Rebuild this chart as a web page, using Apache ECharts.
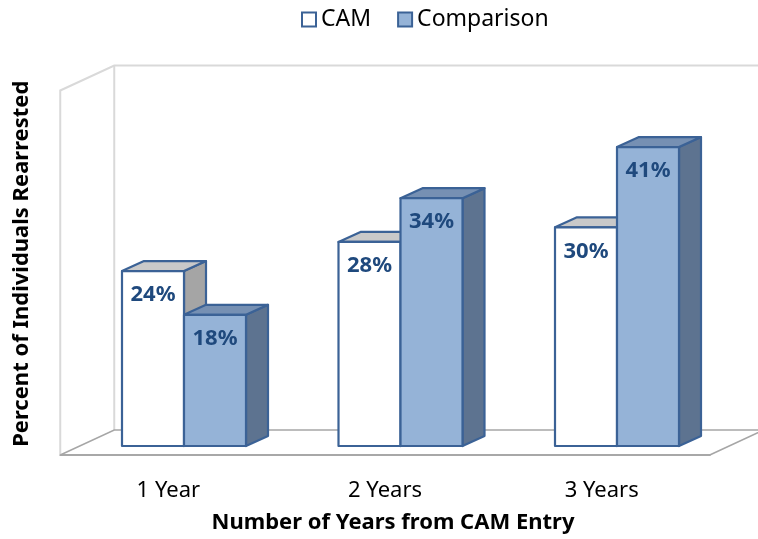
<!DOCTYPE html>
<html><head><meta charset="utf-8">
<script src="https://cdn.jsdelivr.net/npm/echarts@6/dist/echarts.min.js"></script>
<style>html,body{margin:0;padding:0;background:#fff}#c{width:758px;height:539px}</style>
</head><body><div id="c"></div>
<script>
const categories = ['1 Year', '2 Years', '3 Years'];
const camValues = [24, 28, 30];
const comparisonValues = [18, 34, 41];
const seriesNames = ['CAM', 'Comparison'];
const yMax = 50;

const FONT = 'Noto Sans';
const BAR_FRAC = 62 / 216.5;
const BAR_DEPTH = [22, -10];
const FRONT_OFF = [-15.5, 9];
const BACK_OFF = [38.5, -16];
const styles = [
  {front: '#ffffff', top: '#c9c9c9', side: '#a5a5a5', stroke: '#3b6296'},
  {front: '#95b3d7', top: '#7690b3', side: '#5d7390', stroke: '#3b6296'}
];

function barRenderer(idx) {
  return function (params, api) {
    const cat = api.value(0), v = api.value(1);
    const base = api.coord([cat, 0]);
    const top = api.coord([cat, v]);
    const bw = api.size([1, 0])[0] * BAR_FRAC;
    const x0 = base[0] + (idx === 0 ? -bw : 0);
    const x1 = x0 + bw;
    const yb = base[1], yt = top[1];
    const dx = BAR_DEPTH[0], dy = BAR_DEPTH[1];
    const s = styles[idx];
    const ls = {stroke: s.stroke, lineWidth: 2.2, lineJoin: 'round'};
    return {
      type: 'group',
      children: [
        {type: 'polygon', shape: {points: [[x1, yt], [x1 + dx, yt + dy], [x1 + dx, yb + dy], [x1, yb]]},
          style: Object.assign({fill: s.side}, ls)},
        {type: 'polygon', shape: {points: [[x0, yt], [x0 + dx, yt + dy], [x1 + dx, yt + dy], [x1, yt]]},
          style: Object.assign({fill: s.top}, ls)},
        {type: 'rect', shape: {x: x0, y: yt, width: bw, height: yb - yt},
          style: Object.assign({fill: s.front}, ls)},
        {type: 'text', x: (x0 + x1) / 2, y: yt + 24,
          style: {text: v + '%', fill: '#1f497d', font: 'bold 22px "' + FONT + '"', align: 'center', verticalAlign: 'middle'}}
      ]
    };
  };
}

function wallRenderer(params, api) {
  const cs = params.coordSys;
  const L = cs.x, R = cs.x + cs.width, T = cs.y, B = cs.y + cs.height;
  const f = FRONT_OFF, b = BACK_OFF;
  const wall = {stroke: '#d9d9d9', lineWidth: 2, fill: 'none'};
  const floor = {stroke: '#a6a6a6', lineWidth: 1.5, fill: 'none'};
  return {
    type: 'group',
    children: [
      {type: 'polyline', shape: {points: [[L + f[0], B + f[1]], [L + f[0], T + f[1]], [L + b[0], T + b[1]], [R + b[0], T + b[1]]]}, style: wall},
      {type: 'line', shape: {x1: L + b[0], y1: T + b[1], x2: L + b[0], y2: B + b[1]}, style: wall},
      {type: 'polyline', shape: {points: [[L + f[0], B + f[1]], [L + b[0], B + b[1]], [R + b[0], B + b[1]], [R + f[0], B + f[1]]]}, style: floor}
    ]
  };
}

const chart = echarts.init(document.getElementById('c'));
chart.setOption({
  animation: false,
  backgroundColor: '#ffffff',
  legend: {
    top: 3, left: 296, itemGap: 26, itemWidth: 14, itemHeight: 14, icon: 'rect',
    textStyle: {fontFamily: FONT, fontSize: 23, color: '#000'},
    data: [
      {name: 'CAM', itemStyle: {color: '#ffffff', borderColor: '#3b6296', borderWidth: 2}},
      {name: 'Comparison', itemStyle: {color: '#95b3d7', borderColor: '#3b6296', borderWidth: 2}}
    ]
  },
  grid: [
    {left: 75.75, right: 32.75, top: 81.5, bottom: 93, containLabel: false, outerBoundsMode: 'none'},
    {left: 60, right: 48, top: 81.5, bottom: 84, containLabel: false, outerBoundsMode: 'none'}
  ],
  xAxis: [
    {type: 'category', gridIndex: 0, data: categories, show: false},
    {type: 'category', gridIndex: 1, data: categories,
      axisLine: {lineStyle: {color: '#8c8c8c', width: 1.5}},
      axisTick: {length: 7, lineStyle: {color: '#8c8c8c', width: 1.5}},
      axisLabel: {fontFamily: FONT, fontSize: 22, color: '#000', margin: 25},
      name: 'Number of Years from CAM Entry', nameLocation: 'middle', nameGap: 57,
      nameTextStyle: {fontFamily: FONT, fontSize: 22, fontWeight: 'bold', color: '#000', padding: [0, 0, 0, 16]}}
  ],
  yAxis: [
    {type: 'value', gridIndex: 0, min: 0, max: yMax, interval: 10,
      axisLine: {show: false}, axisTick: {show: false}, axisLabel: {show: false}, splitLine: {show: false},
      name: 'Percent of Individuals Rearrested', nameLocation: 'middle', nameGap: 43, nameRotate: 90,
      nameTextStyle: {fontFamily: FONT, fontSize: 22, fontWeight: 'bold', color: '#000'}},
    {type: 'value', gridIndex: 1, min: 0, max: yMax, show: false}
  ],
  series: [
    {type: 'custom', name: 'walls', xAxisIndex: 0, yAxisIndex: 0, data: [[0, 0]], renderItem: wallRenderer, silent: true, z: 1},
    {type: 'custom', name: seriesNames[0], xAxisIndex: 0, yAxisIndex: 0, z: 3,
      itemStyle: {color: '#ffffff', borderColor: '#3b6296'},
      data: camValues.map((v, i) => [i, v]), renderItem: barRenderer(0)},
    {type: 'custom', name: seriesNames[1], xAxisIndex: 0, yAxisIndex: 0, z: 4,
      itemStyle: {color: '#95b3d7', borderColor: '#3b6296'},
      data: comparisonValues.map((v, i) => [i, v]), renderItem: barRenderer(1)}
  ]
});
</script></body></html>
